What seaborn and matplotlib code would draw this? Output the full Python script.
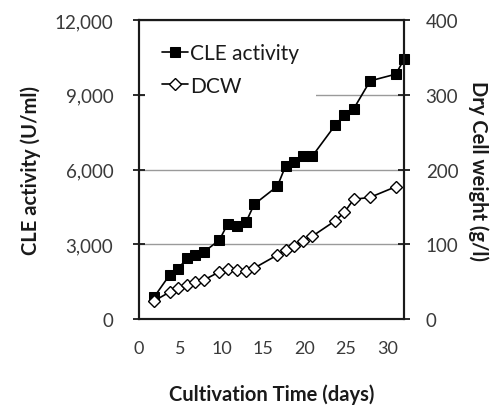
"""
CLE activity and dry cell weight over cultivation time (dual y-axis).
"""

import numpy as np
import pandas as pd
import matplotlib
matplotlib.use('Agg')
import matplotlib.pyplot as plt
import seaborn as sns

# values
days_cle = [1.8, 3.7, 4.7, 5.8, 6.8, 7.8, 9.7, 10.7, 11.8, 12.9, 13.9,
            16.7, 17.7, 18.7, 19.8, 20.9, 23.7, 24.8, 25.9, 27.9, 31.0, 32.0]
cle_activity = [870, 1770, 2010, 2440, 2570, 2680, 3170, 3810, 3740, 3880, 4600,
                5330, 6150, 6300, 6550, 6530, 7790, 8190, 8430, 9560, 9830, 10430]

days_dcw = [1.8, 3.7, 4.7, 5.8, 6.8, 7.8, 9.7, 10.7, 11.8, 12.9, 13.9,
            16.7, 17.7, 18.7, 19.8, 20.9, 23.7, 24.8, 25.9, 27.9, 31.0]
dcw = [24, 36, 41, 45.5, 49, 52, 63, 67, 66, 64.5, 68,
       85.6, 92.7, 98, 104.8, 110.6, 131.5, 142.8, 160, 162.8, 177]

left_ticks = [0, 3000, 6000, 9000, 12000]
right_ticks = [0, 100, 200, 300, 400]
x_ticks = [0, 5, 10, 15, 20, 25, 30]

sns.set_style('white')
plt.rcParams['font.family'] = ['Lato', 'DejaVu Sans']

tick_color = '#3a3a3a'
ink = '#1a1a1a'

fig = plt.figure(figsize=(5.02, 4.06), dpi=100)
ax = fig.add_axes([0.277, 0.212, 0.528, 0.736])
ax2 = ax.twinx()

cle_df = pd.DataFrame({'day': days_cle, 'value': cle_activity})
dcw_df = pd.DataFrame({'day': days_dcw, 'value': dcw})

sns.lineplot(data=cle_df, x='day', y='value', ax=ax, color='black', lw=1.2,
             marker='s', markersize=7, markerfacecolor='black',
             markeredgecolor='black', label='CLE activity', legend=False,
             clip_on=False, zorder=3)
sns.lineplot(data=dcw_df, x='day', y='value', ax=ax2, color='black', lw=1.2,
             marker='D', markersize=6, markerfacecolor='white',
             markeredgecolor='black', markeredgewidth=1.0, label='DCW',
             legend=False, clip_on=False, zorder=3)

ax.set_xlim(0, 32)
ax.set_ylim(0, 12000)
ax2.set_ylim(0, 400)

ax.set_xticks(x_ticks)
ax.set_yticks(left_ticks)
ax.set_yticklabels([f'{v:,}' for v in left_ticks])
ax2.set_yticks(right_ticks)

ax.yaxis.grid(True, color='#9a9a9a', lw=1.0)
ax.xaxis.grid(False)
ax.set_axisbelow(True)

for a in (ax, ax2):
    for s in a.spines.values():
        s.set_color(ink)
        s.set_linewidth(1.5)

ax.tick_params(axis='y', direction='inout', length=9, width=1.3,
               colors=ink, labelcolor=tick_color, labelsize=13.5, pad=14)
ax.tick_params(axis='x', direction='in', length=5, width=1.3,
               colors=ink, labelcolor=tick_color, labelsize=13, pad=15)
ax2.tick_params(axis='y', direction='inout', length=9, width=1.3,
                colors=ink, labelcolor=tick_color, labelsize=13.5, pad=11)

ax.set_xlabel('Cultivation Time (days)', fontsize=14.5, fontweight='bold',
              color=ink, labelpad=20)
ax.set_ylabel('CLE activity (U/ml)', fontsize=14.5, fontweight='bold',
              color=ink, labelpad=10)
ax2.set_ylabel('Dry Cell weight (g/l)', fontsize=14.5, fontweight='bold',
               color=ink, rotation=270, labelpad=22)

handles = ax.get_lines()[:1] + ax2.get_lines()[:1]
leg = ax2.legend(handles, ['CLE activity', 'DCW'], loc='upper left',
                 bbox_to_anchor=(0.0, 1.0), fontsize=15, frameon=True,
                 facecolor='white', edgecolor='none', framealpha=1.0,
                 handlelength=1.25, handletextpad=0.1, labelspacing=0.6,
                 borderpad=0.8, borderaxespad=0.3, fancybox=False)
for t in leg.get_texts():
    t.set_color(ink)

fig.savefig('out.png', dpi=100)
plt.close(fig)
